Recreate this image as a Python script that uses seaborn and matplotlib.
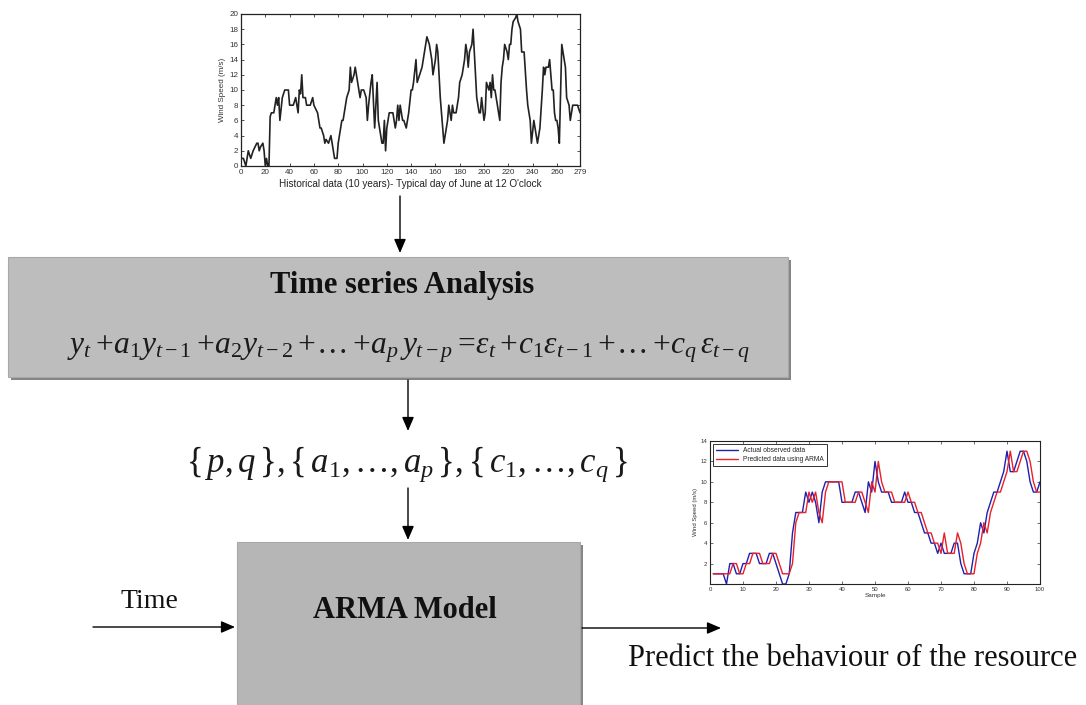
import matplotlib
matplotlib.use("Agg")
import matplotlib.pyplot as plt
import seaborn as sns
import pandas as pd
from matplotlib.patches import Rectangle

# ---------------- data ----------------
hist_x = [0, 2, 4, 6, 8, 10, 13, 14, 15, 16,
          18, 19, 20, 21, 22, 23, 24, 25, 27, 29,
          30, 31, 32, 34, 36, 39, 40, 43, 45, 46,
          47, 48, 49, 50, 51, 53, 54, 57, 59, 60,
          63, 65, 66, 68, 69, 70, 72, 74, 76, 77,
          79, 80, 82, 83, 84, 86, 87, 89, 90, 91,
          93, 94, 95, 97, 98, 99, 101, 103, 104, 105,
          107, 108, 110, 111, 112, 113, 114, 116, 117, 118,
          119, 120, 122, 124, 125, 127, 128, 129, 130, 131,
          133, 134, 136, 138, 140, 141, 142, 144, 145, 147,
          149, 151, 152, 153, 155, 157, 158, 160, 161, 162,
          164, 166, 167, 169, 170, 171, 173, 174, 175, 177,
          179, 180, 182, 183, 184, 185, 186, 187, 188, 190,
          191, 192, 194, 196, 197, 198, 200, 201, 202, 204,
          205, 206, 207, 208, 209, 211, 213, 214, 215, 216,
          217, 219, 220, 221, 222, 223, 224, 226, 227, 228,
          230, 231, 233, 235, 236, 238, 239, 241, 242, 243,
          244, 246, 248, 249, 250, 251, 253, 254, 256, 257,
          258, 259, 260, 261, 262, 264, 265, 267, 268, 270,
          271, 272, 273, 275, 277, 279]
hist_y = [1, 1, 0, 2, 1, 2, 3, 3, 2, 2.5,
          3, 2, 0, 1, 0, 0, 6.5, 7, 7, 9,
          8, 9, 6, 9, 10, 10, 8, 8, 9, 8,
          7, 10, 9.5, 12, 9, 9, 8, 8, 9, 8,
          7, 5, 5, 4, 3, 3.5, 3, 4, 2, 1,
          1, 3, 5, 6, 6, 8, 9, 10, 13, 11,
          12, 13, 12, 10, 9, 10, 10, 9, 6, 8,
          11, 12, 5, 8, 11, 6, 5, 3, 3, 6,
          2, 5, 7, 7, 7, 5, 6, 8, 6, 8,
          6, 6, 5, 7, 10, 10, 11, 14, 11, 12,
          13, 15, 16, 17, 16, 14, 12, 14, 16, 15,
          9, 5, 3, 5, 6, 8, 6, 8, 7, 7,
          9, 11, 12, 13, 14, 16, 15, 13, 15, 16,
          18, 15, 9, 7, 7, 9, 6, 7, 11, 10,
          11, 9, 12, 10, 10, 8, 6, 11, 13, 14,
          16, 15, 14, 16, 16, 18, 19, 19.5, 20, 19,
          18, 15, 15, 10, 8, 6, 3, 6, 5, 4,
          3, 5, 10, 13, 12, 13, 13, 14, 10, 10,
          7, 6, 6, 5, 3, 16, 15, 13, 9, 8,
          6, 7, 8, 8, 8, 7]

sample = list(range(1, 101))
actual = [1, 1, 1, 1, 0, 2, 2, 1, 1, 2,
          2, 3, 3, 3, 2, 2, 2, 3, 3, 2,
          1, 0, 0, 1, 5, 7, 7, 7, 9, 8,
          9, 8, 6, 9, 10, 10, 10, 10, 10, 8,
          8, 8, 8, 9, 9, 8, 7, 10, 9, 12,
          10, 9, 9, 9, 8, 8, 8, 8, 9, 8,
          8, 7, 7, 6, 5, 5, 4, 4, 3, 4,
          3, 3, 3, 4, 4, 2, 1, 1, 1, 3,
          4, 6, 5, 7, 8, 9, 9, 10, 11, 13,
          11, 11, 12, 13, 13, 12, 10, 9, 9, 10]
predicted = [1, 1, 1, 1, 1, 1, 2, 2, 1, 1,
             2, 2, 3, 3, 3, 2, 2, 2, 3, 3,
             2, 1, 1, 1, 2, 6, 7, 7, 7, 9,
             8, 9, 7, 6, 9, 10, 10, 10, 10, 10,
             8, 8, 8, 8, 9, 9, 8, 7, 10, 9,
             12, 10, 9, 9, 9, 8, 8, 8, 8, 9,
             8, 8, 7, 7, 6, 5, 5, 4, 4, 3,
             5, 3, 3, 3, 5, 4, 2, 1, 1, 1,
             3, 4, 6, 5, 7, 8, 9, 9, 10, 11,
             13, 11, 11, 12, 13, 13, 12, 10, 9, 9]

hist_xticks = [0, 20, 40, 60, 80, 100, 120, 140, 160, 180, 200, 220, 240, 260, 279]
hist_yticks = [0, 2, 4, 6, 8, 10, 12, 14, 16, 18, 20]
arma_xticks = [0, 10, 20, 30, 40, 50, 60, 70, 80, 90, 100]
arma_yticks = [2, 4, 6, 8, 10, 12, 14]

# ---------------- style ----------------
sns.set_theme(style="white")
plt.rcParams["font.family"] = ["Liberation Sans", "DejaVu Sans"]
plt.rcParams["mathtext.fontset"] = "custom"
plt.rcParams["mathtext.rm"] = "Liberation Serif"
plt.rcParams["mathtext.it"] = "Liberation Serif:italic"
plt.rcParams["mathtext.bf"] = "Liberation Serif:bold"
plt.rcParams["mathtext.fallback"] = "stix"

W, H = 1086, 705
fig = plt.figure(figsize=(W / 100, H / 100), dpi=100)
fig.patch.set_facecolor("white")

# diagram layer in pixel coordinates
bg = fig.add_axes([0, 0, 1, 1])
bg.set_xlim(0, W)
bg.set_ylim(H, 0)
bg.axis("off")

def box(x0, y0, x1, y1, fill):
    bg.add_patch(Rectangle((x0 + 3, y0 + 3), x1 - x0, y1 - y0, facecolor="#858585",
                           edgecolor="none", zorder=1))
    bg.add_patch(Rectangle((x0, y0), x1 - x0, y1 - y0, facecolor=fill,
                           edgecolor="#a8a8a8", lw=0.8, zorder=2))

def arrow(x0, y0, x1, y1):
    bg.annotate("", xy=(x1, y1), xytext=(x0, y0),
                arrowprops=dict(arrowstyle="-|>,head_length=0.7,head_width=0.3",
                                color="black", lw=1.0, shrinkA=0, shrinkB=0), zorder=3)

serif = ["Liberation Serif", "DejaVu Serif"]

box(8, 257, 788, 377, "#bdbdbd")
box(237, 542, 580, 712, "#b6b6b6")

bg.text(402, 286, "Time series Analysis", ha="center", va="center", fontsize=22,
        fontweight="bold", family=serif, color="#111111", zorder=4)
bg.text(409, 349,
        r"$y_t\,\!+\!a_{\mathit{1}}y_{t-\mathit{1}}\,\!+\!a_{\mathit{2}}y_{t-\mathit{2}}\,\!+\!\ldots\,\!+\!a_p\,y_{t-p}\,\!=\!\varepsilon_t\,\!+\!c_{\mathit{1}}\varepsilon_{t-\mathit{1}}\,\!+\!\ldots\,\!+\!c_q\,\varepsilon_{t-q}$",
        ha="center", va="center", fontsize=22.7, color="#1a1a1a", zorder=4)
bg.text(407, 464,
        r"$\{\,p,q\,\},\{\,a_{\mathit{1}},\ldots,a_p\,\},\{\,c_{\mathit{1}},\ldots,c_q\,\}$",
        ha="center", va="center", fontsize=25, color="#1a1a1a", zorder=4)
bg.text(405, 610, "ARMA Model", ha="center", va="center", fontsize=22,
        fontweight="bold", family=serif, color="#111111", zorder=4)
bg.text(149, 602, "Time", ha="center", va="center", fontsize=20,
        family=serif, color="#111111", zorder=4)
bg.text(853, 658, "Predict the behaviour of the resource", ha="center", va="center",
        fontsize=22, family=serif, color="#111111", zorder=4)

arrow(400, 196, 400, 253)
arrow(408, 380, 408, 431)
arrow(408, 488, 408, 540)
arrow(93, 627, 235, 627)
arrow(582, 628, 721, 628)

# ---------------- top chart: historical data ----------------
ax1 = fig.add_axes([241 / W, 1 - 166 / H, 339 / W, 152 / H])
df_hist = pd.DataFrame({"x": hist_x, "y": hist_y})
sns.lineplot(data=df_hist, x="x", y="y", ax=ax1, color="#222222", lw=1.2)
ax1.set_xlim(0, 279)
ax1.set_ylim(0, 20)
ax1.set_xticks(hist_xticks)
ax1.set_yticks(hist_yticks)
ax1.tick_params(direction="in", length=2.5, width=0.6, labelsize=5.8, pad=2,
                top=True, right=True, bottom=True, left=True, colors="#333333")
ax1.set_xlabel("Historical data (10 years)- Typical day of June at 12 O'clock",
               fontsize=7.2, labelpad=2, color="#222222")
ax1.set_ylabel("Wind Speed (m/s)", fontsize=5.8, labelpad=2, color="#333333")
for s in ax1.spines.values():
    s.set_color("#222222")
    s.set_linewidth(0.9)

# ---------------- bottom right chart: ARMA prediction ----------------
ax2 = fig.add_axes([710 / W, 1 - 584 / H, 330 / W, 143 / H])
df_arma = pd.DataFrame({
    "Sample": sample * 2,
    "value": actual + predicted,
    "series": ["Actual observed data"] * len(sample) + ["Predicted data using ARMA"] * len(sample),
})
sns.lineplot(data=df_arma, x="Sample", y="value", hue="series",
             palette={"Actual observed data": "#1f1fb0", "Predicted data using ARMA": "#e8202a"},
             ax=ax2, lw=1.0)
ax2.set_xlim(0, 100)
ax2.set_ylim(0, 14)
ax2.set_xticks(arma_xticks)
ax2.set_yticks(arma_yticks)
ax2.tick_params(direction="in", length=2.5, width=0.5, labelsize=4.3, pad=2,
                top=True, right=True, bottom=True, left=True, colors="#333333")
ax2.set_xlabel("Sample", fontsize=4.6, labelpad=1, color="#333333")
ax2.set_ylabel("Wind Speed (m/s)", fontsize=4.3, labelpad=2, color="#333333")
for s in ax2.spines.values():
    s.set_color("#222222")
    s.set_linewidth(0.8)
leg = ax2.legend(loc="upper left", fontsize=4.8, frameon=True, fancybox=False,
                 handlelength=3.2, borderpad=0.45, labelspacing=0.3, borderaxespad=0.5)
leg.get_frame().set_edgecolor("black")
leg.get_frame().set_linewidth(0.7)
leg.set_title(None)

fig.savefig("out.png", dpi=100, facecolor="white")
